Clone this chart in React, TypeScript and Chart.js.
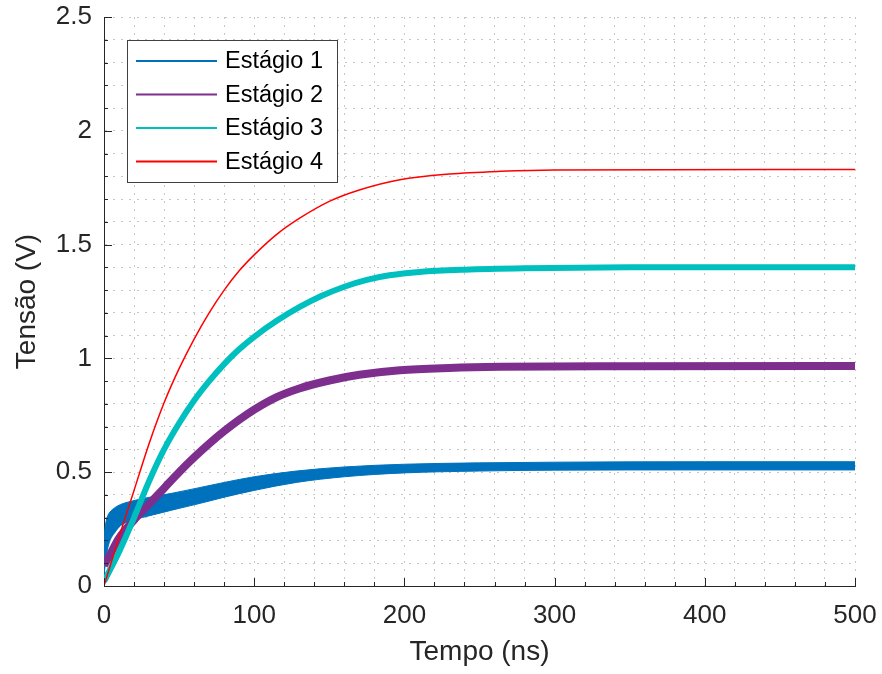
import React, { useEffect, useRef } from 'react';
import { Chart, registerables } from 'chart.js';

Chart.register(...registerables);

// ---- data ----
const seriesNames = ['Estágio 1', 'Estágio 2', 'Estágio 3', 'Estágio 4'];
const seriesColors = ['#0072BD', '#7E2F8E', '#00BFBF', '#FF0000'];

// Estágio 1 is a ripple band: upper and lower envelopes
const stage1Time = [0, 1, 2, 4, 7, 11, 18, 28, 45, 62, 80, 100, 128, 160, 200, 250, 300, 400, 500];
const stage1Upper = [0.22, 0.27, 0.3, 0.325, 0.343, 0.358, 0.372, 0.387, 0.407, 0.43, 0.455, 0.48, 0.505, 0.523, 0.535, 0.541, 0.544, 0.546, 0.546];
const stage1Lower = [0.05, 0.1, 0.15, 0.2, 0.233, 0.265, 0.287, 0.305, 0.333, 0.36, 0.39, 0.42, 0.455, 0.48, 0.497, 0.505, 0.509, 0.51, 0.51];

const stage2Time = [0, 5, 10, 20, 30, 40, 50, 60, 70, 80, 90, 100, 115, 130, 150, 170, 197, 230, 264, 350, 500];
const stage2Values = [0.09, 0.15, 0.21, 0.29, 0.36, 0.43, 0.5, 0.565, 0.625, 0.68, 0.73, 0.775, 0.83, 0.868, 0.903, 0.928, 0.948, 0.958, 0.963, 0.966, 0.967];

const stage3Time = [0, 10, 20, 30, 40, 50, 60, 70, 80, 90, 100, 115, 130, 145, 160, 175, 190, 210, 240, 280, 350, 500];
const stage3Values = [0.02, 0.15, 0.3, 0.46, 0.6, 0.715, 0.815, 0.9, 0.975, 1.04, 1.095, 1.165, 1.225, 1.275, 1.315, 1.345, 1.365, 1.38, 1.39, 1.396, 1.4, 1.4];

const stage4Time = [0, 10, 20, 30, 40, 50, 60, 70, 80, 90, 100, 115, 130, 150, 170, 197, 230, 264, 300, 500];
const stage4Values = [0, 0.215, 0.42, 0.625, 0.805, 0.955, 1.085, 1.2, 1.3, 1.385, 1.455, 1.545, 1.615, 1.69, 1.74, 1.785, 1.81, 1.822, 1.828, 1.83];

const xTickLabels = ['0', '100', '200', '300', '400', '500'];
const yTickLabels = ['0', '0.5', '1', '1.5', '2', '2.5'];
const xTitle = 'Tempo (ns)';
const yTitle = 'Tensão (V)';

const toPoints = (xs: number[], ys: number[]) => xs.map((x, i) => ({ x, y: ys[i] }));

const FONT = "'Liberation Sans', Arial, Helvetica, sans-serif";
const TEXT = '#262626';

const labelFor = (labels: string[], v: number) => {
  const hit = labels.find((l) => Math.abs(Number(l) - v) < 1e-6);
  return hit === undefined ? '' : hit;
};

const innerTicksPlugin = {
  id: 'innerTicks',
  afterDatasetsDraw(chart: any) {
    const { ctx, chartArea } = chart;
    const xs = chart.scales.x;
    const ys = chart.scales.y;
    ctx.save();
    ctx.strokeStyle = TEXT;
    ctx.lineWidth = 1;
    ctx.beginPath();
    xs.ticks.forEach((t: any) => {
      const px = Math.round(xs.getPixelForValue(t.value)) + 0.5;
      const len = labelFor(xTickLabels, t.value) ? 8 : 4;
      ctx.moveTo(px, chartArea.bottom);
      ctx.lineTo(px, chartArea.bottom - len);
    });
    ys.ticks.forEach((t: any) => {
      const py = Math.round(ys.getPixelForValue(t.value)) + 0.5;
      const len = labelFor(yTickLabels, t.value) ? 8 : 4;
      ctx.moveTo(chartArea.left, py);
      ctx.lineTo(chartArea.left + len, py);
    });
    ctx.stroke();
    ctx.restore();
  },
};

const boxLegendPlugin = {
  id: 'boxLegend',
  afterDraw(chart: any) {
    const { ctx } = chart;
    const left = 127, top = 40, width = 210, height = 142;
    ctx.save();
    ctx.fillStyle = '#ffffff';
    ctx.fillRect(left, top, width, height);
    ctx.strokeStyle = '#404040';
    ctx.lineWidth = 1;
    ctx.strokeRect(left + 0.5, top + 0.5, width, height);
    const rows = [61, 94.5, 128, 161.5];
    ctx.font = `23.5px ${FONT}`;
    ctx.textBaseline = 'middle';
    ctx.textAlign = 'left';
    seriesNames.forEach((name, i) => {
      const y = rows[i];
      ctx.strokeStyle = seriesColors[i];
      ctx.lineWidth = 2;
      ctx.beginPath();
      ctx.moveTo(136, y);
      ctx.lineTo(217, y);
      ctx.stroke();
      ctx.fillStyle = '#000000';
      ctx.fillText(name, 225, y + 1);
    });
    ctx.restore();
  },
};

const zeroPadding = (s: any) => {
  s.paddingTop = 0;
  s.paddingBottom = 0;
  s.paddingLeft = 0;
  s.paddingRight = 0;
};

export default function App() {
  const ref = useRef<HTMLCanvasElement | null>(null);

  useEffect(() => {
    if (!ref.current) return;
    const common = { pointRadius: 0, pointHoverRadius: 0, cubicInterpolationMode: 'monotone' as const };
    const chart = new Chart(ref.current, {
      type: 'line',
      data: {
        datasets: [
          {
            ...common,
            label: seriesNames[0],
            data: toPoints(stage1Time, stage1Upper),
            borderColor: seriesColors[0],
            backgroundColor: seriesColors[0],
            borderWidth: 1,
            fill: '+1',
            order: 3,
          },
          {
            ...common,
            label: seriesNames[0] + ' (min)',
            data: toPoints(stage1Time, stage1Lower),
            borderColor: seriesColors[0],
            borderWidth: 1,
            fill: false,
            order: 3,
          },
          {
            ...common,
            label: seriesNames[1],
            data: toPoints(stage2Time, stage2Values),
            borderColor: seriesColors[1],
            borderWidth: 8,
            fill: false,
            order: 2,
          },
          {
            ...common,
            label: seriesNames[2],
            data: toPoints(stage3Time, stage3Values),
            borderColor: seriesColors[2],
            borderWidth: 6,
            fill: false,
            order: 1,
          },
          {
            ...common,
            label: seriesNames[3],
            data: toPoints(stage4Time, stage4Values),
            borderColor: seriesColors[3],
            borderWidth: 1.5,
            fill: false,
            order: 0,
          },
        ],
      },
      options: {
        animation: false,
        responsive: false,
        maintainAspectRatio: false,
        layout: { padding: { top: 17, right: 27, left: 0, bottom: 0 } },
        plugins: {
          legend: { display: false },
          tooltip: { enabled: false },
        },
        scales: {
          x: {
            type: 'linear',
            min: 0,
            max: 500,
            afterFit: (s: any) => {
              s.height = 88;
              zeroPadding(s);
            },
            ticks: {
              stepSize: 20,
              autoSkip: false,
              maxRotation: 0,
              padding: 14,
              color: TEXT,
              font: { family: FONT, size: 26 },
              callback: (v: any) => labelFor(xTickLabels, Number(v)),
            },
            grid: { color: '#c8c8c8', lineWidth: 1, drawTicks: false },
            border: { display: true, color: TEXT, width: 1, dash: [2, 6] },
            title: {
              display: true,
              text: xTitle,
              color: TEXT,
              font: { family: FONT, size: 28 },
              padding: { top: 0, bottom: 5 },
            },
          },
          y: {
            type: 'linear',
            min: 0,
            max: 2.5,
            afterFit: (s: any) => {
              s.width = 104;
              zeroPadding(s);
            },
            ticks: {
              stepSize: 0.1,
              autoSkip: false,
              padding: 12,
              color: TEXT,
              font: { family: FONT, size: 26 },
              callback: (v: any) => labelFor(yTickLabels, Number(v)),
            },
            grid: { color: '#c8c8c8', lineWidth: 1, drawTicks: false },
            border: { display: true, color: TEXT, width: 1, dash: [2, 6] },
            title: {
              display: true,
              text: yTitle,
              color: TEXT,
              font: { family: FONT, size: 28 },
              padding: { top: 10, bottom: 0 },
            },
          },
        },
      },
      plugins: [innerTicksPlugin, boxLegendPlugin],
    } as any);
    return () => chart.destroy();
  }, []);

  return (
    <div style={{ position: 'fixed', left: 0, top: 0, width: 882, height: 674, background: '#fff' }}>
      <canvas ref={ref} width={882} height={674} style={{ width: 882, height: 674 }} />
    </div>
  );
}
